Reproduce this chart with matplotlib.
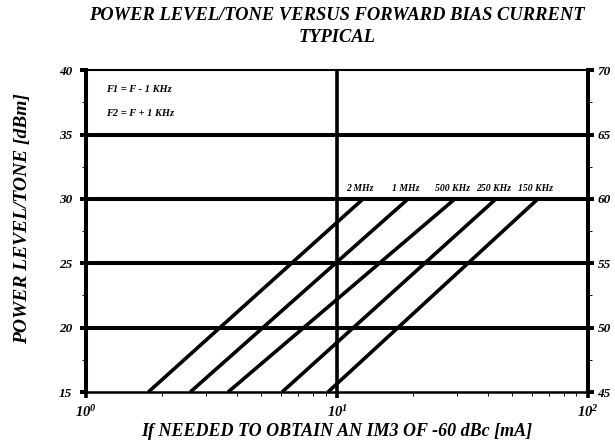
# Power level/tone versus forward bias current (typical)
import matplotlib
matplotlib.use('Agg')
import matplotlib.pyplot as plt
from matplotlib.ticker import LogLocator, FixedLocator

plt.rcParams['font.family'] = 'Liberation Serif'
plt.rcParams['font.weight'] = 'bold'
plt.rcParams['font.style'] = 'italic'
plt.rcParams['axes.labelweight'] = 'bold'
plt.rcParams['mathtext.fontset'] = 'custom'
plt.rcParams['mathtext.rm'] = 'Liberation Serif:bold:italic'
plt.rcParams['mathtext.it'] = 'Liberation Serif:bold:italic'
plt.rcParams['mathtext.bf'] = 'Liberation Serif:bold:italic'

# data: each line goes from 15 dBm to 30 dBm
freq_labels = ['2 MHz', '1 MHz', '500 KHz', '250 KHz', '150 KHz']
current_at_15 = [1.77, 2.6, 3.68, 6.04, 9.2]   # mA
current_at_30 = [12.7, 19.2, 29.5, 43.0, 63.2]  # mA
power_lo = 15
power_hi = 30

y_major = [15, 20, 25, 30, 35, 40]
y_minor = [17.5, 22.5, 27.5, 32.5, 37.5]
right_offset = 30  # right axis reads left + 30

bi = dict(fontweight='bold', fontstyle='italic', family='Liberation Serif')

fig = plt.figure(figsize=(6.15, 4.44), dpi=100)
ax = fig.add_axes([0.140, 0.117, 0.816, 0.725])

ax.set_xscale('log')
ax.set_xlim(1, 100)
ax.set_ylim(15, 40)

# grid lines (thick, only interior)
for y in y_major[1:-1]:
    ax.axhline(y, color='black', lw=2.9, zorder=2)
ax.axvline(10, color='black', lw=2.6, zorder=2)

for lo, hi, lab in zip(current_at_15, current_at_30, freq_labels):
    ax.plot([lo, hi], [power_lo, power_hi], color='black', lw=2.6, solid_capstyle='butt', zorder=3)
    ax.annotate(lab, xy=(hi, power_hi), xytext=(-2, 4), textcoords='offset points',
                ha='center', va='bottom', fontsize=7, **bi)

ax.text(0.04, 0.94, 'F1 = F - 1 KHz', transform=ax.transAxes, fontsize=7.5, va='center', **bi)
ax.text(0.04, 0.865, 'F2 = F + 1 KHz', transform=ax.transAxes, fontsize=7.5, va='center', **bi)

# spines
ax.spines['left'].set_linewidth(2.9)
ax.spines['right'].set_linewidth(2.9)
ax.spines['top'].set_linewidth(1.5)
ax.spines['bottom'].set_linewidth(1.8)

ax.xaxis.set_major_locator(LogLocator(base=10, numticks=5))
ax.xaxis.set_minor_locator(LogLocator(base=10, subs=range(2, 10), numticks=12))
ax.yaxis.set_major_locator(FixedLocator(y_major))
ax.yaxis.set_minor_locator(FixedLocator(y_minor))
ax.tick_params(axis='x', which='major', direction='out', length=4, width=2.6, labelsize=10.5, pad=5)
ax.tick_params(axis='x', which='minor', direction='out', length=3, width=0.7)
ax.tick_params(axis='y', which='major', direction='out', length=4, width=2.9, labelsize=9.5, pad=6)
ax.tick_params(axis='y', which='minor', direction='out', length=3, width=0.7)
for t in ax.get_yticklabels():
    t.set_fontweight('bold')
    t.set_fontstyle('italic')

ax2 = ax.twinx()
ax2.set_ylim(15 + right_offset, 40 + right_offset)
ax2.yaxis.set_major_locator(FixedLocator([v + right_offset for v in y_major]))
ax2.yaxis.set_minor_locator(FixedLocator([v + right_offset for v in y_minor]))
ax2.tick_params(axis='y', which='major', direction='out', length=4, width=2.9, labelsize=9.5, pad=3)
ax2.tick_params(axis='y', which='minor', direction='out', length=3, width=0.7)
for t in ax2.get_yticklabels():
    t.set_fontweight('bold')
    t.set_fontstyle('italic')
for s in ax2.spines.values():
    s.set_visible(False)

ax.set_xlabel('If NEEDED TO OBTAIN AN IM3 OF -60 dBc [mA]', fontsize=13, labelpad=2, **bi)
ax.set_ylabel('POWER LEVEL/TONE [dBm]', fontsize=14, **bi)
ax.yaxis.set_label_coords(-0.11, 0.54)
fig.text(0.548, 0.985, 'POWER LEVEL/TONE VERSUS FORWARD BIAS CURRENT\nTYPICAL',
         ha='center', va='top', fontsize=13.3, linespacing=1.4, **bi)

fig.savefig('out.png', dpi=100)
